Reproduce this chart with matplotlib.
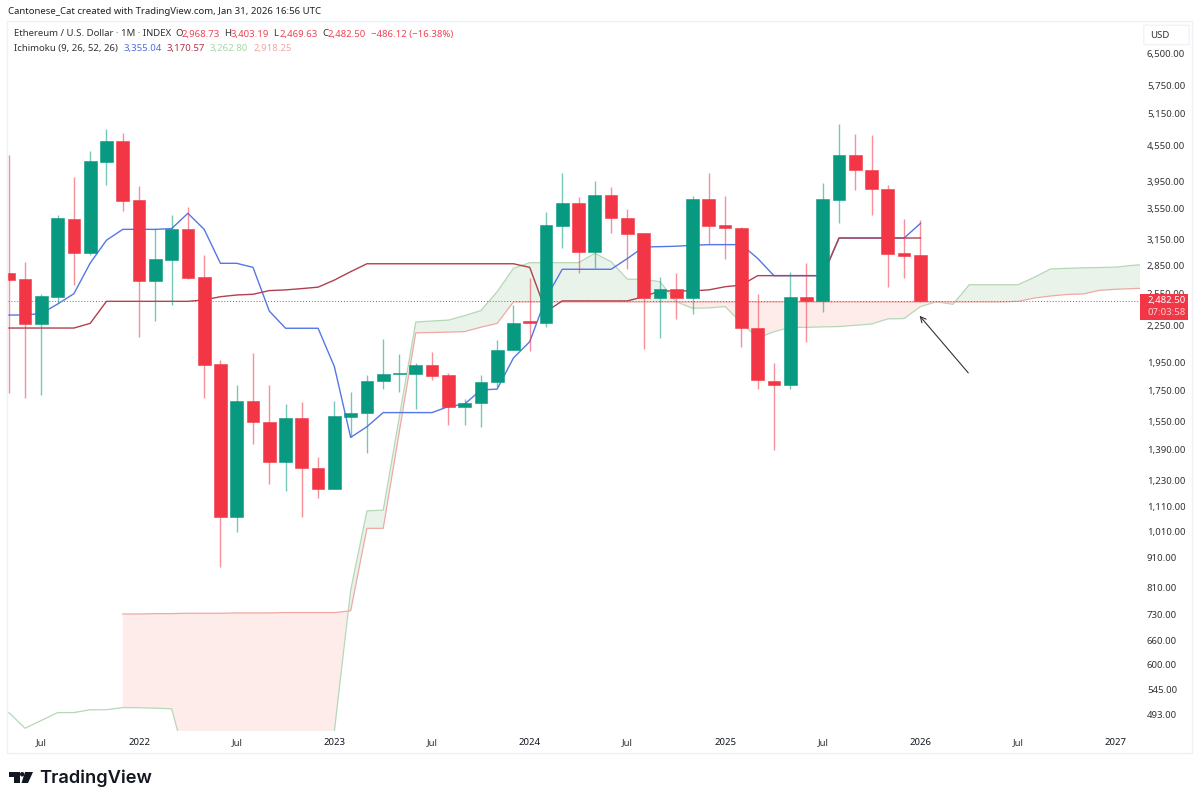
import matplotlib
matplotlib.use('Agg')
import matplotlib.pyplot as plt
from matplotlib.patches import Rectangle, FancyBboxPatch, Polygon, Circle
import numpy as np

# months counted from Jan 2022, first candle is May 2021
first_month = -8

opens = [2766, 2698, 2266, 2521, 3417, 2986, 4269, 4623,
         3677, 2680, 2909, 3279, 2720, 1939, 1066, 1675, 1548, 1324, 1570, 1292,
         1190, 1578, 1601, 1814, 1864, 1864, 1929, 1855, 1639, 1665, 1809, 2046,
         2290, 2275, 3326, 3638, 3005, 3754, 3427, 3229, 2508, 2598, 2508, 3697,
         3331, 3296, 2233, 1816, 1786, 2521, 2476, 3682, 4378, 4135, 3844, 2986,
         2968.73]
highs = [4383, 2886, 2548, 3472, 4017, 4451, 4852, 4768,
         3883, 3279, 3472, 3573, 2966, 1970, 1784, 2026, 1784, 1658, 1671, 1347,
         1675, 1737, 1855, 2135, 2016, 1944, 2029, 1874, 1689, 1859, 2130, 2443,
         2716, 3508, 4080, 3717, 3965, 3873, 3556, 3229, 2726, 2763, 3735, 4090,
         3735, 3314, 2548, 1949, 2780, 2872, 3934, 4946, 4757, 4738, 3899, 3411,
         3403.19]
lows = [1731, 1699, 1717, 2460, 2642, 2966, 3903, 3526,
        2156, 2295, 2440, 2705, 1699, 879, 1005, 1419, 1216, 1181, 1068, 1150,
        1190, 1456, 1368, 1761, 1735, 1625, 1822, 1526, 1526, 1518, 1772, 2046,
        2040, 2242, 3049, 2763, 2816, 3229, 2806, 2054, 2150, 2311, 2353, 3097,
        2921, 2074, 1761, 1386, 1761, 2115, 2372, 3357, 3823, 3467, 2621, 2716,
        2469.63]
closes = [2690, 2266, 2528, 3427, 2986, 4276, 4623, 3662,
          2680, 2916, 3279, 2712, 1931, 1066, 1675, 1548, 1324, 1570, 1290, 1190,
          1583, 1599, 1816, 1864, 1869, 1929, 1850, 1639, 1667, 1809, 2048, 2278,
          2271, 3331, 3638, 3005, 3754, 3423, 3224, 2508, 2598, 2508, 3697, 3321,
          3293, 2229, 1819, 1786, 2521, 2476, 3688, 4388, 4130, 3840, 2981, 2958,
          2482.50]

tenkan = [2347, 2347, 2362, 2450, 2551, 2875, 3143, 3279,
          3279, 3279, 3288, 3491, 3279, 2872, 2872, 2827, 2384, 2229, 2229, 2229,
          1919, 1456, 1518, 1604, 1604, 1604, 1604, 1642, 1658, 1752, 1758, 1985,
          2115, 2508, 2806, 2806, 2806, 2806, 2926, 3061, 3065, 3070, 3081, 3089,
          3089, 3089, 2928, 2737, 2737, 2737, 2737, 3170, 3170, 3170, 3170, 3170, 3355]
kijun = [2231, 2231, 2231, 2231, 2231, 2272, 2476, 2476,
         2476, 2476, 2476, 2476, 2490, 2521, 2538, 2545, 2582, 2589, 2602, 2617,
         2690, 2780, 2867, 2867, 2867, 2867, 2867, 2867, 2867, 2867, 2867, 2867,
         2827, 2378, 2480, 2480, 2480, 2480, 2480, 2521, 2579, 2579, 2579, 2589,
         2621, 2638, 2737, 2737, 2737, 2737, 2737, 3170, 3170, 3170, 3170, 3170, 3170]

# cloud runs 14 months past the last candle on screen
span_a = [497.5, 468, 482.5, 497.5, 497.5, 503, 503, 507.4,
          507, 506, 505, 399, 340, 310, 300, 290, 300, 320, 360, 420,
          463, 802, 1093, 1096, 1583, 2284, 2293, 2301, 2342, 2388, 2571, 2816,
          2879, 2879, 2879, 2879, 2986, 2890, 2699, 2699, 2673, 2472, 2410, 2413,
          2426, 2278, 2145, 2199, 2237, 2237, 2241, 2244, 2255, 2266, 2312, 2315,
          2426, 2472, 2447, 2642, 2642, 2642, 2642, 2720, 2810, 2816, 2822, 2825, 2829, 2849, 2861]
# span b starts at Dec 2021
span_b_first = -1
span_b = [731, 731, 732, 732, 733, 733, 733, 734, 734, 734, 735, 735, 735, 735,
          740, 1021, 1021, 1495, 2190, 2192, 2196, 2200, 2238, 2272,
          2470, 2470, 2470, 2470, 2470, 2470, 2470, 2470, 2470, 2470, 2470,
          2470, 2470, 2470, 2470, 2470, 2470, 2470, 2470, 2470, 2470, 2470,
          2470, 2470, 2470, 2470, 2470, 2470, 2470, 2470, 2470,
          2476, 2508, 2528, 2543, 2548, 2585, 2595, 2602, 2608]

last_price = 2482.50
price_ticks = [6500, 5750, 5150, 4550, 3950, 3550, 3150, 2850, 2550, 2250, 1950, 1750,
               1550, 1390, 1230, 1110, 1010, 910, 810, 730, 660, 600, 545, 493]
time_ticks = [-6, 0, 6, 12, 18, 24, 30, 36, 42, 48, 54, 60]
time_labels = ['Jul', '2022', 'Jul', '2023', 'Jul', '2024', 'Jul', '2025', 'Jul', '2026', 'Jul', '2027']

UP = '#089981'
DOWN = '#F23645'
FONT = 'Noto Sans'
W, H = 1200, 802


def fx(px):
    return px / W


def fy(px):
    return 1 - px / H


def pix_text(x, y, s, **kw):
    kw.setdefault('fontsize', 6.9)
    kw.setdefault('color', '#333333')
    kw.setdefault('va', 'center')
    kw.setdefault('family', FONT)
    fig.text(fx(x), fy(y), s, **kw)


fig = plt.figure(figsize=(12, 8.02), dpi=100, facecolor='white')
ax = fig.add_axes([fx(8), fy(731), fx(1140) - fx(8), fy(24) - fy(731)])

x = np.arange(len(opens)) + first_month
o, h, l, c = map(np.array, (opens, highs, lows, closes))
colors = [UP if ci >= oi else DOWN for oi, ci in zip(o, c)]

# cloud
xa = np.arange(len(span_a)) + first_month
xb = np.arange(len(span_b)) + span_b_first
a_on_b = np.array(span_a)[xa >= span_b_first]
b = np.array(span_b)
ax.fill_between(xb, a_on_b, b, where=a_on_b >= b, interpolate=True, color='#e9f3ea', lw=0, zorder=1)
ax.fill_between(xb, a_on_b, b, where=a_on_b < b, interpolate=True, color='#fdece9', lw=0, zorder=1)
ax.plot(xa, span_a, color='#b5d8b7', lw=0.9, zorder=2)
ax.plot(xb, span_b, color='#efa9a4', lw=0.9, zorder=2)

ax.plot(x, tenkan, color='#5577e6', lw=1, zorder=3)
ax.plot(x, kijun, color='#b0404f', lw=1, zorder=3)
ax.axhline(last_price, color=DOWN, ls=(0, (1, 2)), lw=0.7, zorder=3)

# candles
ax.vlines(x, l, h, colors=colors, lw=1, alpha=0.55, zorder=4)
ax.bar(x, np.abs(c - o), bottom=np.minimum(o, c), width=0.78, color=colors, edgecolor=colors,
       lw=0.4, zorder=5)

ax.annotate('', xy=(47.95, 2340), xytext=(50.94, 1873),
            arrowprops=dict(arrowstyle='->', color='#333333', lw=0.8, shrinkA=0, shrinkB=0), zorder=6)

ax.set_yscale('log')
ax.set_xlim(-8.05, 61.49)
ax.set_ylim(463, 7307)
for s in ax.spines.values():
    s.set_visible(False)
ax.minorticks_off()
ax.yaxis.tick_right()
ax.set_yticks(price_ticks)
ax.set_yticklabels([f'{p:,.2f}' for p in price_ticks], family=FONT, fontsize=6.9, color='#333333', ha='left')
ax.tick_params(axis='y', length=0, pad=5, which='both')
ax.set_xticks(time_ticks)
ax.set_xticklabels(time_labels, family=FONT, fontsize=6.9, color='#333333')
ax.tick_params(axis='x', length=0, pad=5)
for lab in ax.get_xticklabels():
    if lab.get_text() != 'Jul':
        lab.set_fontweight('bold')
        lab.set_color('#131722')

# frame and price axis bits
fig.patches.append(Rectangle((fx(7), fy(753)), fx(1192) - fx(7), fy(21) - fy(753), transform=fig.transFigure,
                             fc='none', ec='#eef0f5', lw=1, zorder=0))
fig.patches.append(FancyBboxPatch((fx(1145), fy(44)), fx(1188) - fx(1145), fy(26) - fy(44), transform=fig.transFigure,
                                  boxstyle='round,pad=0.001', fc='white', ec='#eef0f5', lw=0.8))
pix_text(1150, 35.5, 'USD')
fig.patches.append(Rectangle((fx(1140), fy(319.5)), fx(1188) - fx(1140), fy(294) - fy(319.5), transform=fig.transFigure,
                             fc=DOWN, ec='none', zorder=6))
pix_text(1147, 301, '2,482.50', color='white', zorder=7)
pix_text(1147, 312.5, '07:03:58', color='#fbd0d4', zorder=7)

# header
pix_text(8, 12, 'Cantonese_Cat created with TradingView.com, Jan 31, 2026 16:56 UTC', color='#222222')
pix_text(14, 34, 'Ethereum / U.S. Dollar · 1M · INDEX')
red_t = '#ee4455'
for px, s, col in [(175, 'O', '#333333'), (182, '2,968.73', red_t), (224, 'H', '#333333'), (231, '3,403.19', red_t),
                   (273, 'L', '#333333'), (279, '2,469.63', red_t), (322, 'C', '#333333'), (328, '2,482.50', red_t),
                   (371, '−486.12 (−16.38%)', red_t)]:
    pix_text(px, 34, s, color=col)
pix_text(14, 48, 'Ichimoku (9, 26, 52, 26)')
for px, s, col in [(124, '3,355.04', '#4a70e0'), (167, '3,170.57', '#b0334a'),
                   (210, '3,262.80', '#a5d6a7'), (253, '2,918.25', '#efa9a4')]:
    pix_text(px, 48, s, color=col)

# logo
k = '#131722'
for pts in [[(9, 772), (19.5, 772), (19.5, 783), (14, 783), (14, 776.5), (9, 776.5)],
            [(25, 772), (33, 772), (28, 783), (21.5, 783)]]:
    fig.patches.append(Polygon([(fx(a), fy(b_)) for a, b_ in pts], closed=True, transform=fig.transFigure, fc=k, ec='none'))
fig.text(fx(22.3), fy(774.3), '', fontsize=1)
ax_logo_dot = fig.add_axes([fx(20), fy(776.5), fx(24.4) - fx(20), fy(772) - fy(776.5)])
ax_logo_dot.axis('off')
ax_logo_dot.add_patch(Circle((0.5, 0.5), 0.5, fc=k, ec='none'))
pix_text(39, 778, 'TradingView', fontsize=13.2, color=k, fontweight='semibold', family='Inter')

fig.savefig('out.png', dpi=100)
